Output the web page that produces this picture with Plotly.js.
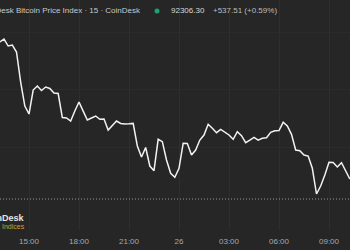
<!DOCTYPE html>
<html>
<head>
<meta charset="utf-8">
<script src="https://cdn.plot.ly/plotly-3.0.1.min.js"></script>
<style>
  html, body { margin: 0; padding: 0; background: #262626; overflow: hidden; }
  #chart { width: 350px; height: 250px; }
</style>
</head>
<body>
<div id="chart"></div>
<script>
// Bitcoin price index, 15-minute points starting 2024-11-25 13:15
const startTime = '2024-11-25T13:15:00';
const intervalMinutes = 15;
const prices = [
  95989, 96069, 95881, 95908, 95720, 94913, 94268, 94053, 94698, 94806,
  94685, 94779, 94739, 94618, 94604, 93959, 93946, 93865, 94134, 94376,
  94130, 93892, 93946, 93999, 93911, 93919, 93623, 93758, 93865, 93798,
  93784, 93790, 93800, 93193, 92897, 93153, 92655, 92529, 93373, 93309,
  92817, 92459, 92352, 92594, 93266, 93262, 92951, 93086, 93354, 93489,
  93776, 93669, 93551, 93642, 93577, 93489, 93373, 93577, 93470, 93282,
  93354, 93427, 93350, 93400, 93416, 93561, 93604, 93610, 93830, 93731,
  93507, 93086, 93067, 92951, 92924, 92594, 91903, 92118, 92413, 92755,
  92750, 92629, 92744, 92502, 92306.30
];
const lastPrice = 92306.30;
const change = 537.51;
const changePct = 0.59;
const referencePrice = 91768.79;

const tickVals = ['2024-11-25 15:00', '2024-11-25 18:00', '2024-11-25 21:00', '2024-11-26 00:00',
                  '2024-11-26 03:00', '2024-11-26 06:00', '2024-11-26 09:00'];
const tickText = ['15:00', '18:00', '21:00', '26', '03:00', '06:00', '09:00'];
const yGridVals = [93166, 94699, 96231];

const times = prices.map((_, i) => {
  const d = new Date(startTime + 'Z');
  d.setUTCMinutes(d.getUTCMinutes() + i * intervalMinutes);
  return d.toISOString().slice(0, 19).replace('T', ' ');
});

const trace = {
  x: times, y: prices, type: 'scatter', mode: 'lines',
  line: { color: '#f2f2f2', width: 1.5 },
  hoverinfo: 'skip'
};

const fontFam = 'Liberation Sans, Arial, sans-serif';

const layout = {
  width: 350, height: 250,
  margin: { l: 0, r: 0, t: 0, b: 20 },
  paper_bgcolor: '#262626', plot_bgcolor: '#262626',
  showlegend: false,
  xaxis: {
    type: 'date',
    range: ['2024-11-25 13:15:36', '2024-11-26 10:15:36'],
    tickvals: tickVals, ticktext: tickText,
    showgrid: true, gridcolor: '#2e2e2e', gridwidth: 1,
    zeroline: false, showline: false, ticks: '',
    ticklabelstandoff: 5,
    tickfont: { family: fontFam, size: 8, color: '#a8a8a8' }
  },
  yaxis: {
    range: [90935.4, 97117.8],
    tickvals: yGridVals, showticklabels: false,
    showgrid: true, gridcolor: '#2b2b2b', gridwidth: 1,
    zeroline: false, showline: false, ticks: ''
  },
  shapes: [
    { type: 'line', xref: 'paper', x0: 0, x1: 1, yref: 'y', y0: referencePrice, y1: referencePrice,
      line: { color: '#9a9a9a', width: 1, dash: '1px,2px' } },
    { type: 'circle', xref: 'paper', yref: 'paper',
      x0: 154.5 / 350, x1: 159.5 / 350, y0: 1 - 13.5 / 230, y1: 1 - 8.5 / 230,
      fillcolor: '#1f9e78', line: { width: 0 } }
  ],
  annotations: [
    { text: 'CoinDesk Bitcoin Price Index · 15 · CoinDesk', xref: 'paper', yref: 'paper',
      x: 143 / 350, y: 1 - 11 / 230, xanchor: 'right', yanchor: 'middle', showarrow: false,
      font: { family: fontFam, size: 8, color: '#c8c8c8' } },
    { text: lastPrice.toFixed(2), xref: 'paper', yref: 'paper',
      x: 169 / 350, y: 1 - 11 / 230, xanchor: 'left', yanchor: 'middle', showarrow: false,
      font: { family: fontFam, size: 8, color: '#d8d8d8' } },
    { text: '+' + change.toFixed(2) + ' (+' + changePct.toFixed(2) + '%)', xref: 'paper', yref: 'paper',
      x: 211 / 350, y: 1 - 11 / 230, xanchor: 'left', yanchor: 'middle', showarrow: false,
      font: { family: fontFam, size: 8, color: '#bdbdbd' } },
    { text: '<b>CoinDesk</b>', xref: 'paper', yref: 'paper',
      x: 27 / 350, y: 1 - 218 / 230, xanchor: 'right', yanchor: 'middle', showarrow: false,
      font: { family: fontFam, size: 9, color: '#e6e6e6' } },
    { text: 'Indices', xref: 'paper', yref: 'paper',
      x: 27 / 350, y: 1 - 226.5 / 230, xanchor: 'right', yanchor: 'middle', showarrow: false,
      font: { family: fontFam, size: 7, color: '#c9a23a' } }
  ]
};

Plotly.newPlot('chart', [trace], layout, { displayModeBar: false, staticPlot: true });
</script>
</body>
</html>
